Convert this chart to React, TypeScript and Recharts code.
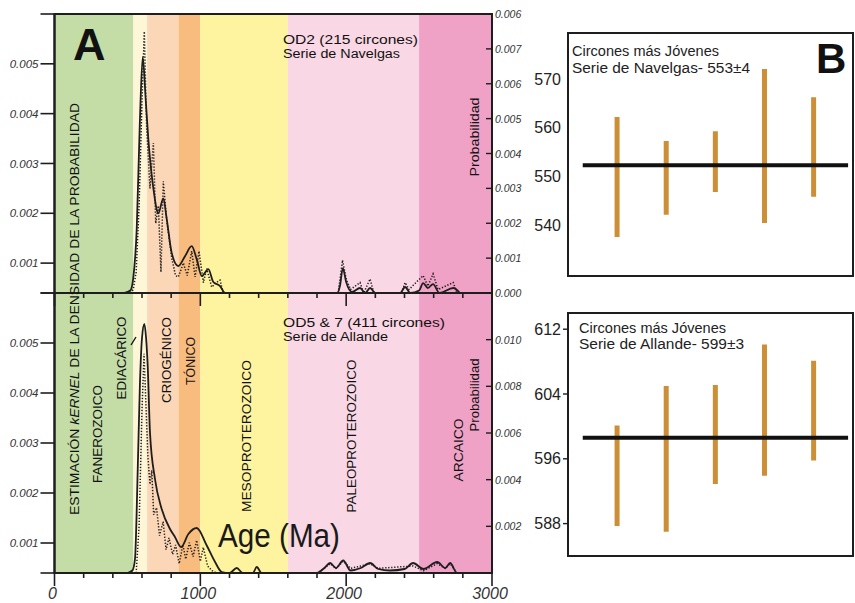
import React from "react";
import {
  ComposedChart,
  Line,
  Bar,
  XAxis,
  YAxis,
  ReferenceArea,
  ReferenceLine,
} from "recharts";

const FONT = '"Liberation Sans", Arial, sans-serif';
const INK = "#1e1e1e";

// age axis (Ma)
const AGE_TICKS = [0, 200, 400, 600, 800, 1000, 1200, 1400, 1600, 1800, 2000, 2200, 2400, 2600, 2800, 3000];
const AGE_LABELS = [0, 1000, 2000, 3000];

// geologic time bands
const ERA_START = [0, 541, 635, 850, 1000, 1600, 2500];
const ERA_END = [541, 635, 850, 1000, 1600, 2500, 3000];
const ERA_COLORS = ["#c4dca6", "#fff6d8", "#fcd7b7", "#f8bd7e", "#fef39e", "#f9d7e4", "#f0a2c6"];

// left axis: kernel density estimate
const KDE_TICKS = [0.0004, 0.001, 0.002, 0.003, 0.004, 0.005, 0.006];
const KDE_LABELS = ["", "0.001", "0.002", "0.003", "0.004", "0.005", ""];

// right axis: probability
const PROB_TOP_TICKS = [0, 0.001, 0.002, 0.003, 0.004, 0.005, 0.006, 0.007, 0.008];
const PROB_TOP_LABELS = ["0.000", "0.001", "0.002", "0.003", "0.004", "0.005", "0.006", "0.007", "0.006"];
const PROB_BOT_TICKS = [0.002, 0.004, 0.006, 0.008, 0.01];
const PROB_BOT_LABELS = ["0.002", "0.004", "0.006", "0.008", "0.010"];

// OD2 - Serie de Navelgas
const NAV_KDE_AGE = [480, 520, 540, 564, 585, 605, 625, 643, 678, 712, 746, 769, 804, 849, 895, 941, 975, 1010, 1055, 1089, 1135, 1170, 1940, 1958, 1977, 2000, 2040, 2095, 2130, 2164, 2200, 2370, 2404, 2440, 2500, 2528, 2560, 2596, 2640, 2734, 2780];
const NAV_KDE = [0.0004, 0.00045, 0.0007, 0.0017, 0.0038, 0.00514, 0.0043, 0.0035, 0.0025, 0.002, 0.0023, 0.0019, 0.0012, 0.00094, 0.00114, 0.00134, 0.00108, 0.00074, 0.00088, 0.00062, 0.00054, 0.0004, 0.0004, 0.00055, 0.0009, 0.00062, 0.00042, 0.0005, 0.0004, 0.0005, 0.0004, 0.0004, 0.00052, 0.0004, 0.00045, 0.0006, 0.0005, 0.00058, 0.0004, 0.0005, 0.0004];
const NAV_PROB_AGE = [520, 540, 560, 580, 600, 616, 632, 655, 678, 694, 712, 730, 746, 769, 804, 830, 849, 884, 910, 941, 964, 991, 1021, 1044, 1078, 1110, 1135, 1158, 1945, 1975, 2000, 2030, 2095, 2120, 2164, 2190, 2380, 2404, 2430, 2528, 2560, 2596, 2630, 2734, 2760];
const NAV_PROB = [0, 0.0001, 0.0006, 0.0025, 0.0055, 0.0075, 0.0047, 0.003, 0.0043, 0.002, 0.0025, 0.0006, 0.0032, 0.0021, 0.001, 0.0005, 0.00046, 0.00086, 0.0005, 0.0012, 0.00046, 0.0012, 0.0003, 0.0007, 0.00017, 0.0003, 0.00037, 0, 0, 0.00094, 0.0004, 0.0001, 0.0003, 0, 0.0004, 0, 0, 0.0003, 0.0001, 0.0005, 0.0002, 0.00055, 0.0001, 0.0003, 0];

// OD5 & 7 - Serie de Allande
const ALL_KDE_AGE = [500, 534, 552, 571, 586, 600, 616, 628, 639, 655, 689, 735, 792, 826, 868, 918, 975, 1044, 1101, 1147, 1200, 1250, 1290, 1360, 1387, 1420, 1800, 1850, 1890, 1930, 1980, 2030, 2100, 2164, 2220, 2300, 2400, 2459, 2530, 2624, 2680, 2713, 2760, 3000];
const ALL_KDE = [0.0004, 0.00045, 0.00068, 0.0025, 0.0042, 0.0051, 0.00538, 0.0051, 0.00455, 0.0032, 0.00228, 0.00168, 0.00128, 0.00112, 0.00092, 0.00118, 0.0013, 0.00095, 0.00062, 0.00042, 0.0004, 0.0005, 0.0004, 0.0004, 0.00052, 0.0004, 0.0004, 0.0005, 0.0006, 0.0005, 0.00065, 0.00045, 0.0005, 0.0006, 0.00048, 0.00045, 0.00048, 0.0006, 0.00048, 0.00062, 0.0005, 0.0006, 0.0004, 0.0004];
const ALL_PROB_AGE = [560, 580, 600, 614, 625, 640, 655, 667, 680, 700, 720, 745, 765, 785, 810, 830, 855, 880, 900, 925, 950, 975, 1000, 1020, 1050, 1080, 1110, 1800, 1850, 1890, 1930, 1980, 2030, 2100, 2164, 2220, 2459, 2530, 2624, 2680, 2713, 2760];
const ALL_PROB = [0, 0.002, 0.007, 0.0094, 0.0075, 0.005, 0.0038, 0.0044, 0.0025, 0.0028, 0.0016, 0.0022, 0.001, 0.0015, 0.0008, 0.0012, 0.0004, 0.0012, 0.0006, 0.0013, 0.0007, 0.0014, 0.0005, 0.0011, 0.0003, 0.0001, 0, 0, 0.0002, 0.0004, 0.0002, 0.0005, 0.0002, 0.0003, 0.0004, 0.0002, 0.0003, 0.0001, 0.0004, 0.0002, 0.0004, 0];

// youngest zircons (Ma): lower and upper ends of each error bar
const NAV_LOW = [537.5, 542.1, 546.8, 540.4, 545.8];
const NAV_HIGH = [562.2, 557.3, 559.3, 572.1, 566.3];
const NAV_MEAN = 552.3;
const NAV_TICKS = [540, 550, 560, 570];
const ALL_LOW = [587.7, 587.0, 592.9, 593.9, 595.8];
const ALL_HIGH = [600.1, 605.0, 605.1, 610.1, 608.1];
const ALL_MEAN = 598.6;
const ALL_TICKS = [588, 596, 604, 612];

const toSeries = (ages: number[], vals: number[], key: string) =>
  ages.map((age, i) => ({ age, [key]: vals[i] }));

const ageTick = (where: "top" | "mid" | "bottom") => (props: any) => {
  const { x, y, payload } = props;
  const major = AGE_LABELS.includes(payload.value);
  let y2 = y + (major ? 13 : 5);
  if (where === "top" && !major) y2 = y - 5;
  return (
    <g>
      <line x1={x} x2={x} y1={y} y2={y2} stroke={INK} strokeWidth={1.6} />
      {where === "bottom" && major && (
        <text x={x - 2} y={y + 20} textAnchor="middle" dominantBaseline="central" fontSize={16} fontStyle="italic" fill="#333" fontFamily={FONT}>
          {payload.value}
        </text>
      )}
    </g>
  );
};

const probTick = (ticks: number[], labels: string[]) => (props: any) => {
  const { x, y, payload } = props;
  const label = labels[ticks.indexOf(payload.value)];
  return (
    <g>
      <line x1={x - 6} x2={x} y1={y} y2={y} stroke={INK} strokeWidth={1.4} />
      <text x={x + 3} y={y} dominantBaseline="central" fontSize={10.5} fontStyle="italic" fill="#333" fontFamily={FONT}>
        {label}
      </text>
    </g>
  );
};

function AgePanel({ top, kde, prob, probTicks, probLabels, probMax }: any) {
  const height = top ? 310 : 323;
  return (
    <ComposedChart width={560} height={height} margin={{ top: top ? 0 : 13, right: 0, bottom: 0, left: 0 }}>
      <XAxis
        xAxisId="age"
        dataKey="age"
        type="number"
        domain={[0, 3000]}
        ticks={AGE_TICKS}
        interval={0}
        height={top ? 17 : 30}
        tickSize={0}
        tickMargin={0}
        axisLine={{ stroke: INK, strokeWidth: 2 }}
        tick={ageTick(top ? "mid" : "bottom")}
      />
      {top && (
        <XAxis
          xAxisId="ageTop"
          orientation="top"
          dataKey="age"
          type="number"
          domain={[0, 3000]}
          ticks={AGE_TICKS}
          interval={0}
          height={14}
          tickSize={0}
          tickMargin={0}
          axisLine={{ stroke: INK, strokeWidth: 2 }}
          tick={ageTick("top")}
        />
      )}
      <YAxis
        yAxisId="kde"
        type="number"
        domain={[0.0004, 0.006]}
        allowDataOverflow
        ticks={KDE_TICKS}
        interval={0}
        width={54.5}
        tickSize={14}
        tickMargin={2}
        tickFormatter={(v: number) => KDE_LABELS[KDE_TICKS.indexOf(v)]}
        tickLine={{ stroke: INK, strokeWidth: 1.6 }}
        axisLine={{ stroke: INK, strokeWidth: 2 }}
        tick={{ fontSize: 11.5, fontStyle: "italic", fill: "#333", fontFamily: FONT }}
      />
      <YAxis
        yAxisId="prob"
        orientation="right"
        type="number"
        domain={[0, probMax]}
        allowDataOverflow
        ticks={probTicks}
        interval={0}
        width={68}
        tickSize={0}
        tickMargin={0}
        axisLine={{ stroke: INK, strokeWidth: 2 }}
        tick={probTick(probTicks, probLabels)}
      />
      {ERA_START.map((s, i) => (
        <ReferenceArea
          key={s}
          xAxisId="age"
          yAxisId="kde"
          x1={s}
          x2={ERA_END[i]}
          fill={ERA_COLORS[i]}
          fillOpacity={1}
          stroke="none"
        />
      ))}
      <Line
        xAxisId="age"
        yAxisId="prob"
        data={prob}
        dataKey="prob"
        type="linear"
        stroke={INK}
        strokeWidth={1.5}
        strokeDasharray="1.3 1.7"
        dot={false}
        isAnimationActive={false}
      />
      <Line
        xAxisId="age"
        yAxisId="kde"
        data={kde}
        dataKey="kde"
        type="monotone"
        stroke={INK}
        strokeWidth={1.8}
        dot={false}
        isAnimationActive={false}
      />
      <ReferenceArea
        xAxisId="age"
        yAxisId="kde"
        x1={0}
        x2={3000}
        y1={0.0004}
        y2={0.006}
        fill="none"
        stroke={INK}
        strokeWidth={2}
      />
    </ComposedChart>
  );
}

function YoungestChart({ low, high, mean, domain, ticks, tickLines }: any) {
  const data = low.map((l: number, i: number) => ({ pos: i + 1, range: [l, high[i]] }));
  return (
    <ComposedChart width={375} height={300} data={data} margin={{ top: 33, right: 2, bottom: 24, left: 0 }}>
      <XAxis dataKey="pos" type="number" domain={[0, 5.8]} hide />
      <YAxis
        type="number"
        domain={domain}
        allowDataOverflow
        ticks={ticks}
        interval={0}
        width={88}
        tickSize={5}
        tickMargin={2}
        axisLine={false}
        tickLine={tickLines ? { stroke: INK, strokeWidth: 1.4 } : false}
        tick={{ fontSize: 16, fill: "#222", fontFamily: FONT }}
      />
      <Bar dataKey="range" barSize={5} fill="#cc8e36" isAnimationActive={false} />
      <ReferenceLine
        segment={[
          { x: 0.3, y: mean },
          { x: 5.7, y: mean },
        ]}
        stroke="#111"
        strokeWidth={4}
      />
      <ReferenceArea x1={0} x2={5.8} y1={domain[0]} y2={domain[1]} fill="none" stroke={INK} strokeWidth={2} />
    </ComposedChart>
  );
}

function Vtext({ x, y, len, size = 13.5, children }: any) {
  return (
    <text
      x={x}
      y={y}
      transform={`rotate(-90 ${x} ${y})`}
      textAnchor="middle"
      dominantBaseline="central"
      fontSize={size}
      textLength={len}
      lengthAdjust="spacingAndGlyphs"
      fill="#111"
    >
      {children}
    </text>
  );
}

export default function App() {
  return (
    <div style={{ position: "absolute", left: 0, top: 0, width: 855, height: 603, background: "#fff", fontFamily: FONT, overflow: "hidden" }}>
      <div style={{ position: "absolute", left: 0, top: 280 }}>
        <AgePanel
          top={false}
          kde={toSeries(ALL_KDE_AGE, ALL_KDE, "kde")}
          prob={toSeries(ALL_PROB_AGE, ALL_PROB, "prob")}
          probTicks={PROB_BOT_TICKS}
          probLabels={PROB_BOT_LABELS}
          probMax={0.012}
        />
      </div>
      <div style={{ position: "absolute", left: 0, top: 0 }}>
        <AgePanel
          top
          kde={toSeries(NAV_KDE_AGE, NAV_KDE, "kde")}
          prob={toSeries(NAV_PROB_AGE, NAV_PROB, "prob")}
          probTicks={PROB_TOP_TICKS}
          probLabels={PROB_TOP_LABELS}
          probMax={0.008}
        />
      </div>
      <div style={{ position: "absolute", left: 480, top: 0 }}>
        <YoungestChart low={NAV_LOW} high={NAV_HIGH} mean={NAV_MEAN} domain={[529.5, 579.5]} ticks={NAV_TICKS} tickLines={false} />
      </div>
      <div style={{ position: "absolute", left: 480, top: 280 }}>
        <YoungestChart low={ALL_LOW} high={ALL_HIGH} mean={ALL_MEAN} domain={[584, 614]} ticks={ALL_TICKS} tickLines />
      </div>
      <svg width={855} height={603} style={{ position: "absolute", left: 0, top: 0, pointerEvents: "none" }} fontFamily={FONT}>
        <text x={73} y={60} fontSize={45} fontWeight="bold" fill="#111">A</text>
        <text x={816} y={73} fontSize={42} fontWeight="bold" fill="#111">B</text>

        <text x={283} y={44} fontSize={12} textLength={135} lengthAdjust="spacingAndGlyphs" fill="#111">OD2 (215 circones)</text>
        <text x={283} y={57.5} fontSize={12} textLength={117} lengthAdjust="spacingAndGlyphs" fill="#111">Serie de Navelgas</text>
        <text x={283} y={327} fontSize={12} textLength={162} lengthAdjust="spacingAndGlyphs" fill="#111">OD5 &amp; 7 (411 circones)</text>
        <text x={283} y={340.5} fontSize={12} textLength={105} lengthAdjust="spacingAndGlyphs" fill="#111">Serie de Allande</text>

        <Vtext x={474} y={137} len={79} size={13}>Probabilidad</Vtext>
        <Vtext x={474} y={395} len={73} size={13}>Probabilidad</Vtext>
        <Vtext x={458} y={450} len={63}>ARCAICO</Vtext>
        <Vtext x={97} y={434} len={98}>FANEROZOICO</Vtext>
        <Vtext x={121} y={358} len={83}>EDIACÁRICO</Vtext>
        <line x1={131} y1={345} x2={136} y2={337} stroke="#111" strokeWidth={1.4} />
        <Vtext x={166.5} y={360} len={86}>CRIOGÉNICO</Vtext>
        <Vtext x={190} y={361} len={48}>TÓNICO</Vtext>
        <Vtext x={246} y={436} len={152}>MESOPROTEROZOICO</Vtext>
        <Vtext x={351} y={436} len={153}>PALEOPROTEROZOICO</Vtext>
        <text
          x={74}
          y={309}
          transform="rotate(-90 74 309)"
          textAnchor="middle"
          dominantBaseline="central"
          fontSize={13.5}
          textLength={412}
          lengthAdjust="spacingAndGlyphs"
          fill="#111"
        >
          ESTIMACIÓN <tspan fontStyle="italic">kERNEL</tspan> DE LA DENSIDAD DE LA PROBABILIDAD
        </text>

        <text x={218} y={547} fontSize={33} textLength={122} lengthAdjust="spacingAndGlyphs" fill="#1a1a1a">Age (Ma)</text>

        <text x={572} y={56} fontSize={14} textLength={147} lengthAdjust="spacingAndGlyphs" fill="#222">Circones más Jóvenes</text>
        <text x={572} y={73} fontSize={14} textLength={178} lengthAdjust="spacingAndGlyphs" fill="#222">Serie de Navelgas- 553±4</text>
        <text x={579} y={333} fontSize={14} textLength={147} lengthAdjust="spacingAndGlyphs" fill="#222">Circones más Jóvenes</text>
        <text x={579} y={349} fontSize={14} textLength={165} lengthAdjust="spacingAndGlyphs" fill="#222">Serie de Allande- 599±3</text>
      </svg>
    </div>
  );
}
